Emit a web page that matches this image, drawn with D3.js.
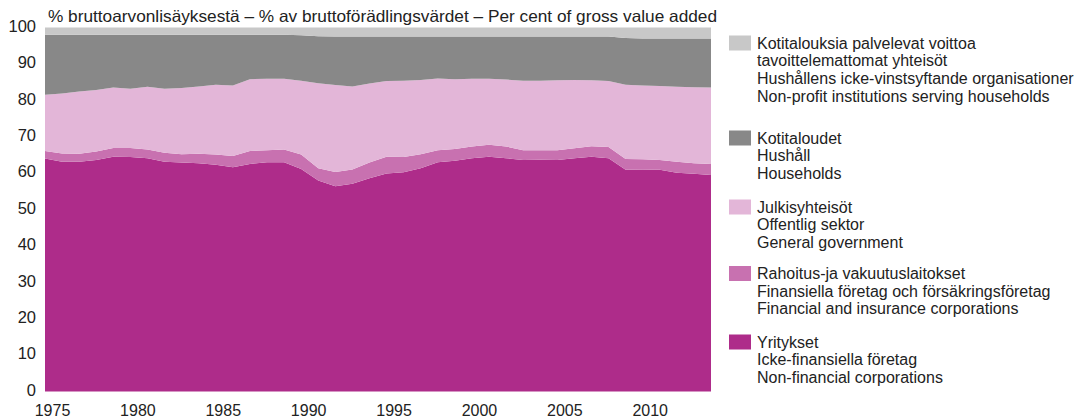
<!DOCTYPE html>
<html>
<head>
<meta charset="utf-8">
<script src="https://cdn.jsdelivr.net/npm/d3@7"></script>
<style>
  html, body { margin: 0; padding: 0; background: #fff; }
  svg { display: block; }
  text { font-family: "Liberation Sans", Arial, sans-serif; fill: #222; }
</style>
</head>
<body>
<svg id="chart" width="1074" height="418"></svg>
<script>
// ---- Data (shares of gross value added, %) ----
const years = d3.range(1975, 2015);
const nonFinancial = [64.0,63.1,63.1,63.6,64.5,64.4,64.1,63.1,62.9,62.7,62.3,61.6,62.5,63.0,63.0,61.1,58.0,56.4,57.1,58.6,59.9,60.2,61.3,63.0,63.4,64.1,64.5,64.1,63.6,63.7,63.6,64.1,64.5,64.1,60.9,61.0,60.9,60.1,59.8,59.5];
const financial    = [2.1,2.3,2.2,2.3,2.4,2.5,2.4,2.5,2.3,2.6,2.8,3.1,3.6,3.3,3.5,4.0,3.3,3.9,3.9,4.3,4.6,4.2,3.9,3.3,3.2,3.2,3.3,3.2,2.7,2.6,2.7,2.7,2.9,3.1,3.0,2.8,2.7,3.0,2.9,3.0];
const government   = [15.4,16.5,17.1,16.9,16.6,16.3,17.2,17.6,18.2,18.5,19.2,19.4,19.7,19.6,19.4,20.3,23.4,23.9,22.8,21.7,20.8,21.0,20.4,19.7,19.2,18.6,18.1,18.4,19.1,19.1,19.2,18.8,18.1,18.1,20.4,20.3,20.3,20.6,20.9,21.0];
const households   = [16.5,16.1,15.6,15.2,14.5,14.8,14.3,14.8,14.6,14.2,13.7,13.9,12.2,12.1,12.1,12.5,12.9,13.3,13.7,12.9,12.2,12.1,11.9,11.5,11.7,11.6,11.6,11.8,12.1,12.1,12.0,11.9,12.0,12.2,12.8,12.9,13.1,13.3,13.4,13.5];
const npish        = [2.0,2.0,2.0,2.0,2.0,2.0,2.0,2.0,2.0,2.0,2.0,2.0,2.0,2.0,2.0,2.1,2.4,2.5,2.5,2.5,2.5,2.5,2.5,2.5,2.5,2.5,2.5,2.5,2.5,2.5,2.5,2.5,2.5,2.5,2.9,3.0,3.0,3.0,3.0,3.0];

const xTickYears = [1975, 1980, 1985, 1990, 1995, 2000, 2005, 2010];
const yTicks = [0, 10, 20, 30, 40, 50, 60, 70, 80, 90, 100];
const title = "% bruttoarvonlisäyksestä – % av bruttoförädlingsvärdet – Per cent of gross value added";

const seriesKeys = ["npish", "households", "government", "financial", "nonFinancial"];
const legendLabels = {
  npish: ["Kotitalouksia palvelevat voittoa", "tavoittelemattomat yhteisöt", "Hushållens icke-vinstsyftande organisationer", "Non-profit institutions serving households"],
  households: ["Kotitaloudet", "Hushåll", "Households"],
  government: ["Julkisyhteisöt", "Offentlig sektor", "General government"],
  financial: ["Rahoitus-ja vakuutuslaitokset", "Finansiella företag och försäkringsföretag", "Financial and insurance corporations"],
  nonFinancial: ["Yritykset", "Icke-finansiella företag", "Non-financial corporations"]
};
const colors = {
  nonFinancial: "#ae2c8a",
  financial: "#c871b0",
  government: "#e3b6d8",
  households: "#888888",
  npish: "#c8c8c8"
};

// ---- Build table ----
const table = years.map((y, i) => ({
  year: y,
  nonFinancial: nonFinancial[i],
  financial: financial[i],
  government: government[i],
  households: households[i],
  npish: npish[i]
}));

const svg = d3.select("#chart");

const x = d3.scaleLinear().domain([1975, 2014]).range([45, 711]);
const y = d3.scaleLinear().domain([0, 100]).range([391.5, 27.5]);

const stackOrder = ["nonFinancial", "financial", "government", "households", "npish"];
const stacked = d3.stack().keys(stackOrder)(table);

const area = d3.area()
  .x(d => x(d.data.year))
  .y0(d => y(d[0]))
  .y1(d => y(Math.min(100, d[1])));

svg.append("g").selectAll("path")
  .data(stacked)
  .join("path")
  .attr("d", area)
  .attr("fill", d => colors[d.key]);

// ---- Axes ----
const yAxis = d3.axisLeft(y).tickValues(yTicks).tickSize(0).tickPadding(9);
const gy = svg.append("g").attr("transform", "translate(45,-1.5)").call(yAxis);
gy.select(".domain").remove();
gy.selectAll("text").style("font-size", "16.5px").style("font-family", "Liberation Sans, Arial, sans-serif").attr("fill", "#222");

const xAxis = d3.axisBottom(x).tickValues(xTickYears).tickSize(0).tickPadding(13).tickFormat(d3.format("d"));
const gx = svg.append("g").attr("transform", "translate(7,391.5)").call(xAxis);
gx.select(".domain").remove();
gx.selectAll("text").style("font-size", "16px").style("font-family", "Liberation Sans, Arial, sans-serif").attr("fill", "#222");

// ---- Title ----
svg.append("text")
  .attr("x", 48)
  .attr("y", 21.5)
  .attr("textLength", 669)
  .attr("lengthAdjust", "spacingAndGlyphs")
  .style("font-size", "16.5px")
  .text(title);

// ---- Legend ----
const legendTop = { npish: 43, households: 138, government: 207, financial: 273.5, nonFinancial: 342 };
const lineH = 17.6;
const lg = svg.append("g");
seriesKeys.forEach(k => {
  const g = lg.append("g");
  g.append("rect")
    .attr("x", 729).attr("y", legendTop[k] - 7.5)
    .attr("width", 22).attr("height", 15)
    .attr("fill", colors[k]);
  legendLabels[k].forEach((line, j) => {
    g.append("text")
      .attr("x", 757)
      .attr("y", legendTop[k] + j * lineH)
      .attr("dy", "0.36em")
      .style("font-size", "16px")
      .text(line);
  });
});
</script>
</body>
</html>
